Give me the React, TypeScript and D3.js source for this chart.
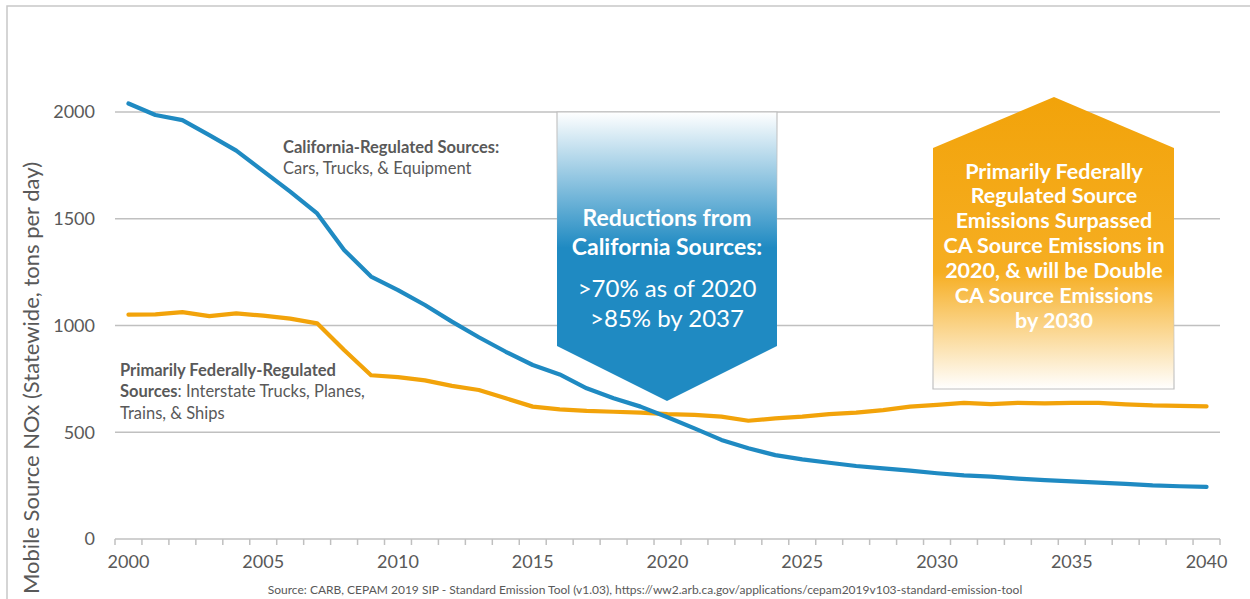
import React from 'react';
import * as d3 from 'd3';

// categories and series (tons per day)
const years = [
  2000, 2001, 2002, 2003, 2004, 2005, 2006, 2007, 2008, 2009,
  2010, 2011, 2012, 2013, 2014, 2015, 2016, 2017, 2018, 2019,
  2020, 2021, 2022, 2023, 2024, 2025, 2026, 2027, 2028, 2029,
  2030, 2031, 2032, 2033, 2034, 2035, 2036, 2037, 2038, 2039, 2040,
];
const caValues = [
  2040, 1986, 1962, 1892, 1819, 1723, 1627, 1525, 1354, 1229,
  1166, 1096, 1018, 945, 877, 815, 771, 706, 659, 620,
  570, 518, 464, 425, 393, 373, 357, 342, 331, 320,
  308, 298, 292, 283, 276, 270, 264, 258, 251, 247, 244,
];
const fedValues = [
  1051, 1052, 1063, 1044, 1057, 1046, 1032, 1010, 885, 767,
  758, 743, 717, 698, 659, 620, 607, 600, 596, 592,
  585, 581, 573, 554, 565, 573, 585, 592, 604, 620,
  628, 638, 632, 638, 635, 638, 638, 631, 626, 624, 621,
];
const yTicks = [0, 500, 1000, 1500, 2000];
const xLabelYears = [2000, 2005, 2010, 2015, 2020, 2025, 2030, 2035, 2040];

const blueLines = ['Reductions from', 'California Sources:'];
const blueSub = ['>70% as of 2020', '>85% by 2037'];
const orangeLines = [
  'Primarily Federally',
  'Regulated Source',
  'Emissions Surpassed',
  'CA Source Emissions in',
  '2020, & will be Double',
  'CA Source Emissions',
  'by 2030',
];

const W = 1250;
const H = 599;
const FONT = 'Lato, "Open Sans", sans-serif';
const GREY_TEXT = '#595959';
const BLUE = '#1F8AC2';
const ORANGE = '#F2A30A';

export default function App() {
  const left = 115;
  const right = 1220;
  const x = d3.scaleBand<number>().domain(years).range([left, right]).padding(0);
  const y = d3.scaleLinear().domain([0, 2000]).range([539, 112]);
  const cx = (yr: number) => (x(yr) as number) + x.bandwidth() / 2;

  const line = d3
    .line<number>()
    .x((_, i) => cx(years[i]))
    .y((d) => y(d));

  const edges = years.map((yr) => x(yr) as number).concat([right]);

  // callout outlines
  const bluePath = 'M557,112 L777,112 L777,346 L667,401 L557,346 Z';
  const orangePath = 'M1054,97 L1174,148 L1174,389 L933,389 L933,148 Z';

  return (
    <svg
      width={W}
      height={H}
      style={{ position: 'absolute', left: 0, top: 0, background: '#fff' }}
      fontFamily={FONT}
    >
      <defs>
        <linearGradient id="blueFill" gradientUnits="userSpaceOnUse" x1="0" y1="112" x2="0" y2="401">
          <stop offset="0" stopColor="#FFFFFF" />
          <stop offset="0.47" stopColor={BLUE} />
          <stop offset="1" stopColor={BLUE} />
        </linearGradient>
        <linearGradient id="blueStroke" gradientUnits="userSpaceOnUse" x1="0" y1="112" x2="0" y2="401">
          <stop offset="0" stopColor="#BFBFBF" stopOpacity="1" />
          <stop offset="0.45" stopColor="#BFBFBF" stopOpacity="0" />
        </linearGradient>
        <linearGradient id="orangeFill" gradientUnits="userSpaceOnUse" x1="0" y1="97" x2="0" y2="389">
          <stop offset="0" stopColor={ORANGE} />
          <stop offset="0.6" stopColor="#F6AE22" />
          <stop offset="1" stopColor="#FFFFFF" />
        </linearGradient>
        <linearGradient id="orangeStroke" gradientUnits="userSpaceOnUse" x1="0" y1="97" x2="0" y2="389">
          <stop offset="0.6" stopColor="#BFBFBF" stopOpacity="0" />
          <stop offset="1" stopColor="#BFBFBF" stopOpacity="1" />
        </linearGradient>
      </defs>

      {/* outer frame */}
      <rect x={7} y={6} width={1300} height={700} fill="none" stroke="#C8C8C8" strokeWidth={1.5} />

      {/* gridlines */}
      {yTicks.map((t) => (
        <line key={t} x1={left} x2={right} y1={y(t)} y2={y(t)} stroke="#C0C0C0" strokeWidth={1.5} />
      ))}
      {yTicks.map((t) => (
        <text key={'l' + t} x={95} y={y(t)} dy="0.35em" textAnchor="end" fontSize={18} fill={GREY_TEXT}>
          {t}
        </text>
      ))}

      {/* x axis ticks */}
      {edges.map((e, i) => (
        <line key={'t' + i} x1={e} x2={e} y1={539} y2={545} stroke="#C0C0C0" strokeWidth={1.5} />
      ))}
      {xLabelYears.map((yr) => (
        <text key={'x' + yr} x={cx(yr)} y={562} dy="0.35em" textAnchor="middle" fontSize={18} fill={GREY_TEXT}>
          {yr}
        </text>
      ))}

      {/* y axis title */}
      <text
        transform="translate(39,378) rotate(-90)"
        textAnchor="middle"
        fontSize={22}
        fill={GREY_TEXT}
      >
        Mobile Source NOx (Statewide, tons per day)
      </text>

      {/* series */}
      <path d={line(fedValues) || ''} fill="none" stroke={ORANGE} strokeWidth={4.2} strokeLinejoin="round" strokeLinecap="round" />
      <path d={line(caValues) || ''} fill="none" stroke={BLUE} strokeWidth={4.2} strokeLinejoin="round" strokeLinecap="round" />

      {/* callouts */}
      <path d={bluePath} fill="url(#blueFill)" stroke="url(#blueStroke)" strokeWidth={1.2} />
      {blueLines.map((s, i) => (
        <text key={s} x={667} y={218 + i * 29} dy="0.35em" textAnchor="middle" fontSize={23} fontWeight="bold" fill="#fff">
          {s}
        </text>
      ))}
      {blueSub.map((s, i) => (
        <text key={s} x={667} y={289 + i * 30} dy="0.35em" textAnchor="middle" fontSize={24} fill="#fff">
          {s}
        </text>
      ))}

      <path d={orangePath} fill="url(#orangeFill)" stroke="url(#orangeStroke)" strokeWidth={1.2} />
      {orangeLines.map((s, i) => (
        <text key={s + i} x={1054} y={171 + i * 24.9} dy="0.35em" textAnchor="middle" fontSize={21.5} fontWeight="bold" fill="#fff">
          {s}
        </text>
      ))}

      {/* series annotations */}
      <text x={283} y={147} dy="0.35em" fontSize={16.5} fill={GREY_TEXT} fontWeight="bold">
        California-Regulated Sources:
      </text>
      <text x={283} y={168.5} dy="0.35em" fontSize={16.5} fill={GREY_TEXT}>
        Cars, Trucks, &amp; Equipment
      </text>
      <text x={120} y={370} dy="0.35em" fontSize={16.5} fill={GREY_TEXT}>
        <tspan fontWeight="bold">Primarily Federally-Regulated</tspan>
      </text>
      <text x={120} y={391.5} dy="0.35em" fontSize={16.5} fill={GREY_TEXT}>
        <tspan fontWeight="bold">Sources</tspan>: Interstate Trucks, Planes,
      </text>
      <text x={120} y={413} dy="0.35em" fontSize={16.5} fill={GREY_TEXT}>
        Trains, &amp; Ships
      </text>

      {/* source */}
      <text x={645} y={590} dy="0.35em" textAnchor="middle" fontSize={12} fill={GREY_TEXT}>
        Source: CARB, CEPAM 2019 SIP - Standard Emission Tool (v1.03), https://ww2.arb.ca.gov/applications/cepam2019v103-standard-emission-tool
      </text>
    </svg>
  );
}
